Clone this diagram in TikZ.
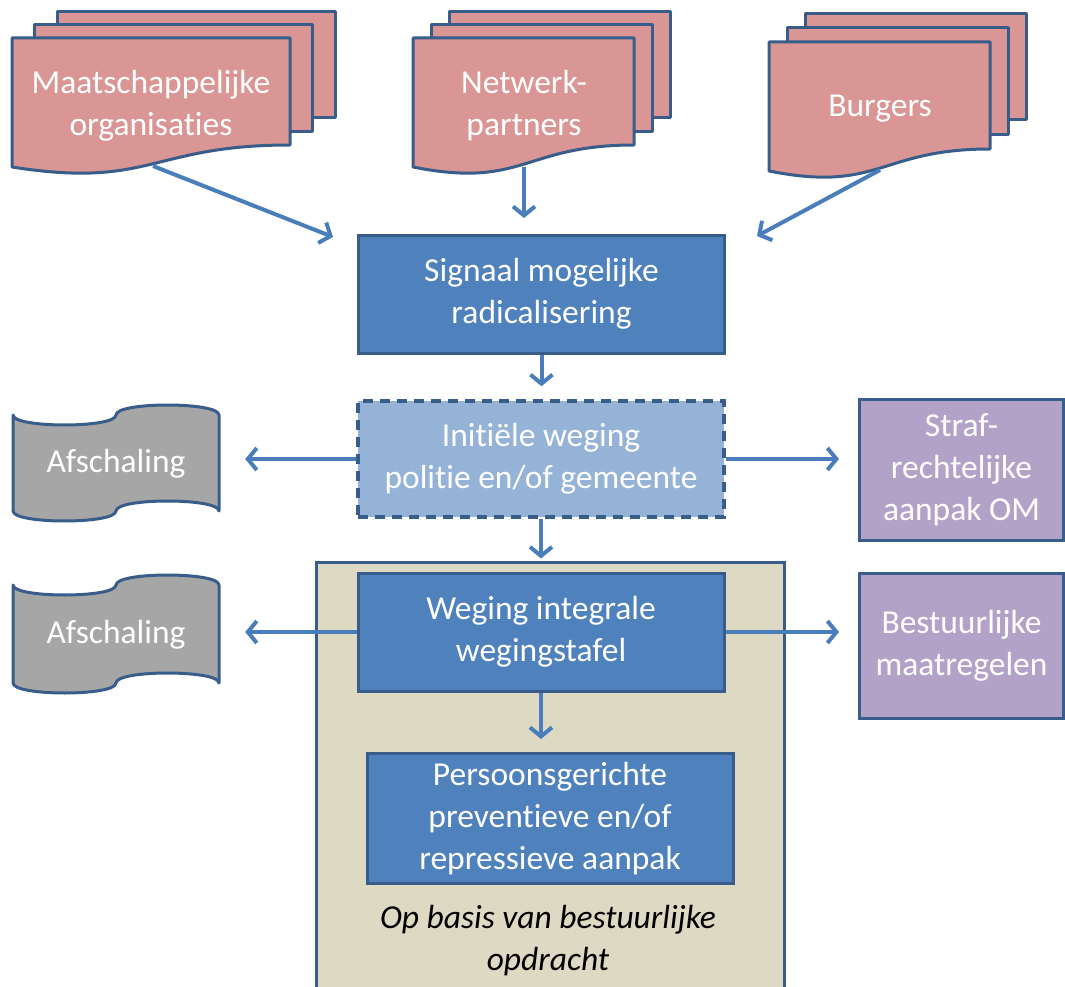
\documentclass[tikz,border=0pt]{standalone}
\usepackage{fontspec}
\setmainfont{Carlito}[Ligatures=NoCommon]
\usetikzlibrary{arrows.meta}
\definecolor{bfill}{HTML}{4F81BD}
\definecolor{bline}{HTML}{385D8A}
\definecolor{lfill}{HTML}{95B3D7}
\definecolor{pfill}{HTML}{D99694}
\definecolor{gfill}{HTML}{A6A6A6}
\definecolor{vfill}{HTML}{B3A2C7}
\definecolor{tfill}{HTML}{DDD9C3}
\definecolor{arrc}{HTML}{4A7EBB}
% #1 x, #2 y (top of back sheet), #3 front width, #4 dx, #5 dy
\newcommand\mdocshape[5]{%
  \draw[docline] ({#1+2*#4},{#2}) rectangle ({#1+2*#4+#3},{#2+106});
  \draw[docline] ({#1+#4},{#2+#5}) rectangle ({#1+#4+#3},{#2+#5+107});
  \draw[docline] ({#1},{#2+2*#5}) -- ({#1+#3},{#2+2*#5}) -- ({#1+#3},{#2+2*#5+107})
     .. controls ({#1+0.5*#3},{#2+2*#5+107}) and ({#1+0.5*#3},{#2+2*#5+151}) .. ({#1},{#2+2*#5+129}) -- cycle;
}
% #1 x, #2 y, #3 w, #4 h, #5 r
\newcommand\ptape[5]{%
  \draw[tapeline] ({#1},{#2+#5})
    .. controls ({#1},{#2+2.333*#5}) and ({#1+0.5*#3},{#2+2.333*#5}) .. ({#1+0.5*#3},{#2+#5})
    .. controls ({#1+0.5*#3},{#2-0.333*#5}) and ({#1+#3},{#2-0.333*#5}) .. ({#1+#3},{#2+#5})
    -- ({#1+#3},{#2+#4-#5})
    .. controls ({#1+#3},{#2+#4-2.333*#5}) and ({#1+0.5*#3},{#2+#4-2.333*#5}) .. ({#1+0.5*#3},{#2+#4-#5})
    .. controls ({#1+0.5*#3},{#2+#4+0.333*#5}) and ({#1},{#2+#4+0.333*#5}) .. ({#1},{#2+#4-#5})
    -- cycle;
}
\begin{document}
\begin{tikzpicture}[x=1pt,y=-1pt,
  every node/.style={font=\fontsize{33.5}{42}\selectfont, text=white, align=center, inner sep=0pt},
  docline/.style={draw=bline, line width=3pt, fill=pfill, line join=round},
  tapeline/.style={draw=bline, line width=3pt, fill=gfill, line join=round},
  boxbase/.style={draw=bline, line width=3pt},
  bluebox/.style={boxbase, fill=bfill, minimum width=366pt},
  lightbox/.style={draw=bline, line width=3.5pt, dash pattern=on 10pt off 7pt, fill=lfill, minimum width=366pt},
  violetbox/.style={boxbase, fill=vfill, minimum width=204pt},
  holder/.style={draw=none, fill=none},
  arr/.style={draw=arrc, line width=4pt, -{Straight Barb[length=9pt,width=22pt]}},
]
\useasboundingbox (0,0) rectangle (1065,987);
\clip (0,0) rectangle (1065,987);

% container
\draw[boxbase, fill=tfill] (316,562) rectangle (784,1010);

% multi-documents
\mdocshape{12}{12}{278}{22.5}{13}
\mdocshape{413}{12}{221}{18}{13}
\mdocshape{769}{14}{221}{18}{14}
\node[holder] (maat) at (151,106) {Maatschappelijke\\organisaties};
\node[holder] (netw) at (524,106) {Netwerk-\\partners};
\node[holder] (burg) at (880,109) {Burgers};

% punched tapes
\ptape{13}{405}{206}{116}{10}
\ptape{13}{575}{206}{118}{10}
\node[holder, minimum width=206pt, minimum height=116pt] (afs1) at (116,464) {Afschaling};
\node[holder, minimum width=206pt, minimum height=118pt] (afs2) at (116,635) {Afschaling};

% boxes
\node[bluebox, minimum height=118pt] (sig) at (541.5,294) {Signaal mogelijke\\radicalisering};
\node[lightbox, minimum height=116pt] (ini) at (541,459) {Initiële weging\\politie en/of gemeente};
\node[bluebox, minimum height=118pt] (weg) at (541,632) {Weging integrale\\wegingstafel};
\node[bluebox, minimum height=130pt] (per) at (550,818.5) {Persoonsgerichte\\preventieve en/of\\repressieve aanpak};
\node[violetbox, minimum height=141pt] (straf) at (961.5,469.5) {Straf-\\rechtelijke\\aanpak OM};
\node[violetbox, minimum height=145pt] (best) at (961.5,645.5) {Bestuurlijke\\maatregelen};
\node[text=black, font=\fontsize{33.5}{42}\selectfont\itshape] (note) at (548,941) {Op basis van bestuurlijke\\opdracht};

% connector end points
\coordinate (maatb) at (153,166);
\coordinate (maatt) at (333,237);
\coordinate (netwb) at (524,167);
\coordinate (netwt) at (524,218);
\coordinate (burgb) at (880,170);
\coordinate (burgt) at (757,236);

% connectors
\draw[arr] (maatb) -- (maatt);
\draw[arr] (netwb) -- (netwt);
\draw[arr] (burgb) -- (burgt);
\draw[arr, shorten >=13pt] (sig.south) -- (sig.south |- ini.north);
\draw[arr, shorten >=13pt] (ini.south) -- (ini.south |- weg.north);
\draw[arr, shorten >=13pt] (weg.south) -- (weg.south |- per.north);
\draw[arr, shorten >=26pt] (ini.west) -- (ini.west -| afs1.east);
\draw[arr, shorten >=19pt] (ini.east) -- (ini.east -| straf.west);
\draw[arr, shorten >=26pt] (weg.west) -- (weg.west -| afs2.east);
\draw[arr, shorten >=19pt] (weg.east) -- (weg.east -| best.west);
\end{tikzpicture}
\end{document}
